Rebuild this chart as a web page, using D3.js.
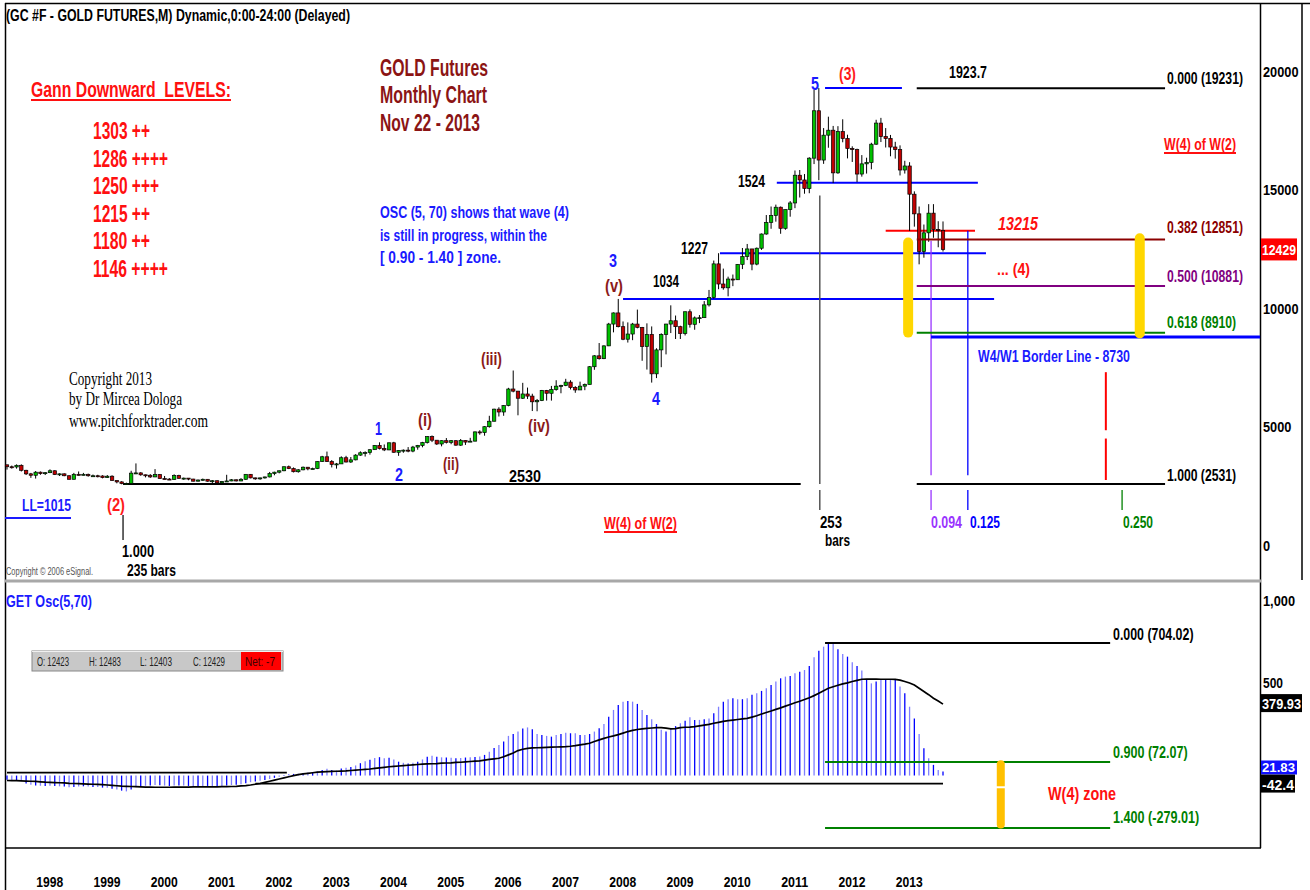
<!DOCTYPE html>
<html>
<head>
<meta charset="utf-8">
<script src="https://cdn.jsdelivr.net/npm/d3@7"></script>
<style>
  body { margin: 0; background: #fff; }
  svg { display: block; }
</style>
</head>
<body>
<svg id="chart"></svg>
<script>
// GC #F monthly bars, Jul 1997 .. Nov 2013 (price in $, eSignal shows it x10)
var firstYear = 1997, firstMonth = 7;
var years = [1998, 1999, 2000, 2001, 2002, 2003, 2004, 2005, 2006, 2007, 2008, 2009, 2010, 2011, 2012, 2013];

var opens = [
  334, 326, 325, 332, 311, 296,
  290, 303, 297, 301, 309, 293, 296, 288, 273, 294, 292, 294,
  288, 288, 287, 280, 286, 268, 262, 255, 255, 299, 300, 292,
  290, 283, 293, 276, 274, 272, 289, 277, 278, 274, 265, 270,
  273, 265, 267, 258, 264, 266, 271, 266, 273, 294, 279, 275,
  279, 283, 297, 303, 309, 326, 318, 305, 313, 324, 317, 318,
  348, 368, 348, 336, 338, 364, 346, 355, 375, 385, 386, 398,
  416, 403, 397, 427, 387, 395, 396, 392, 409, 416, 428, 453,
  438, 422, 436, 429, 436, 417, 437, 430, 434, 473, 470, 495,
  518, 569, 557, 584, 654, 645, 615, 633, 624, 600, 605, 648,
  636, 652, 666, 669, 683, 660, 650, 666, 673, 748, 794, 782,
  836, 928, 975, 917, 864, 886, 928, 914, 833, 884, 718, 819,
  884, 928, 942, 917, 888, 980, 927, 954, 955, 1009, 1040, 1182,
  1097, 1081, 1118, 1115, 1180, 1213, 1245, 1181, 1248, 1308, 1357, 1386,
  1421, 1332, 1411, 1439, 1556, 1536, 1500, 1628, 1828, 1620, 1725, 1746,
  1566, 1740, 1711, 1669, 1664, 1561, 1604, 1610, 1687, 1776, 1719, 1711,
  1675, 1664, 1578, 1595, 1476, 1393, 1234, 1313, 1396, 1327, 1323
];
var highs = [
  335, 331, 336, 336, 313, 300,
  308, 306, 303, 315, 311, 298, 298, 290, 300, 306, 300, 297,
  293, 292, 290, 291, 290, 268, 265, 259, 309, 340, 303, 293,
  295, 316, 295, 287, 278, 294, 292, 280, 278, 275, 272, 276,
  273, 270, 268, 266, 292, 274, 272, 278, 294, 295, 280, 280,
  284, 304, 305, 310, 327, 331, 323, 316, 327, 325, 322, 349,
  372, 390, 354, 342, 370, 372, 367, 379, 391, 391, 399, 417,
  429, 420, 428, 431, 396, 399, 409, 414, 418, 431, 455, 458,
  438, 437, 447, 438, 437, 443, 438, 448, 475, 480, 497, 541,
  571, 577, 586, 659, 732, 646, 680, 660, 634, 612, 650, 650,
  667, 691, 672, 697, 691, 666, 685, 677, 751, 797, 848, 838,
  933, 977, 1034, 939, 935, 933, 989, 916, 931, 918, 826, 889,
  929, 1007, 964, 921, 981, 990, 960, 966, 1025, 1072, 1196, 1227,
  1162, 1128, 1137, 1181, 1249, 1266, 1245, 1251, 1310, 1388, 1424, 1432,
  1424, 1411, 1447, 1576, 1578, 1561, 1632, 1917, 1923.7, 1755, 1803, 1764,
  1763, 1792, 1727, 1678, 1668, 1641, 1630, 1693, 1790, 1798, 1755, 1726,
  1697, 1682, 1617, 1611, 1488, 1424, 1348, 1434, 1434, 1362, 1361
];
var lows = [
  314, 318, 318, 306, 291, 279,
  276, 292, 291, 299, 291, 287, 286, 272, 273, 289, 290, 284,
  284, 281, 277, 279, 267, 256, 252, 252, 254, 295, 288, 281,
  279, 282, 276, 273, 270, 271, 276, 271, 269, 264, 264, 267,
  263, 255, 256, 255, 263, 265, 264, 265, 271, 277, 271, 271,
  276, 281, 290, 298, 307, 316, 302, 301, 311, 311, 315, 316,
  346, 346, 323, 318, 338, 344, 342, 353, 372, 369, 377, 397,
  399, 392, 396, 385, 372, 385, 387, 387, 398, 408, 424, 430,
  418, 412, 424, 421, 415, 414, 418, 430, 433, 461, 457, 491,
  517, 538, 541, 581, 640, 543, 612, 612, 561, 560, 603, 605,
  605, 647, 636, 666, 652, 638, 650, 649, 673, 735, 778, 780,
  835, 893, 914, 860, 850, 860, 910, 773, 736, 681, 700, 746,
  800, 890, 865, 865, 880, 913, 904, 932, 955, 1002, 1035, 1075,
  1073, 1045, 1088, 1114, 1160, 1198, 1155, 1176, 1241, 1305, 1330, 1360,
  1309, 1326, 1381, 1417, 1462, 1478, 1480, 1603, 1535, 1604, 1672, 1523,
  1562, 1695, 1627, 1612, 1527, 1550, 1563, 1581, 1684, 1696, 1673, 1636,
  1626, 1555, 1563, 1321, 1339, 1180, 1208, 1275, 1292, 1252, 1234
];
var closes = [
  326, 325, 332, 311, 296, 290,
  303, 297, 301, 309, 293, 296, 288, 273, 294, 292, 294, 288,
  288, 287, 280, 286, 268, 262, 255, 255, 299, 300, 292, 290,
  283, 293, 276, 274, 272, 289, 277, 278, 274, 265, 270, 273,
  265, 267, 258, 264, 266, 271, 266, 273, 294, 279, 275, 279,
  283, 297, 303, 309, 326, 318, 305, 313, 324, 317, 318, 348,
  368, 348, 336, 338, 364, 346, 355, 375, 385, 386, 398, 416,
  403, 397, 427, 387, 395, 396, 392, 409, 416, 428, 453, 438,
  422, 436, 429, 436, 417, 437, 430, 434, 473, 470, 495, 518,
  569, 557, 584, 654, 645, 615, 633, 624, 600, 605, 648, 636,
  652, 666, 669, 683, 660, 650, 666, 673, 748, 794, 782, 836,
  928, 975, 917, 864, 886, 928, 914, 833, 884, 718, 819, 884,
  928, 942, 917, 888, 980, 927, 954, 955, 1009, 1040, 1182, 1097,
  1081, 1118, 1115, 1180, 1213, 1245, 1181, 1248, 1308, 1357, 1386, 1421,
  1332, 1411, 1439, 1556, 1536, 1500, 1628, 1828, 1620, 1725, 1746, 1566,
  1740, 1711, 1669, 1664, 1561, 1604, 1610, 1687, 1776, 1719, 1711, 1675,
  1664, 1578, 1595, 1476, 1393, 1234, 1313, 1396, 1327, 1323, 1242.9
];

var oscValues = [
  -22, -25, -27, -30, -42, -48,
  -52, -54, -55, -54, -55, -57, -58, -62, -60, -58, -57, -58,
  -60, -61, -64, -65, -70, -74, -80, -84, -74, -62, -56, -54,
  -53, -50, -51, -53, -55, -53, -52, -53, -55, -57, -56, -55,
  -55, -56, -57, -56, -52, -50, -49, -46, -40, -35, -32, -28,
  -24, -18, -12, -6, 3, 8, 9, 10, 14, 16, 17, 22,
  30, 36, 30, 27, 38, 42, 46, 54, 66, 76, 84, 94,
  98, 92, 95, 86, 74, 68, 64, 68, 74, 86, 100, 106,
  100, 97, 96, 95, 92, 94, 96, 97, 99, 101, 110, 127,
  146, 163, 181, 211, 221, 234, 250, 256, 246, 221, 216, 211,
  207, 216, 221, 228, 225, 225, 216, 216, 221, 234, 251, 274,
  313, 349, 375, 393, 397, 393, 381, 349, 322, 300, 274, 243,
  234, 251, 263, 278, 292, 310, 296, 296, 300, 304, 331, 366,
  393, 406, 411, 406, 406, 411, 429, 438, 450, 464, 482, 500,
  517, 526, 529, 544, 552, 561, 583, 629, 664, 685, 704, 700,
  671, 646, 632, 602, 583, 558, 508, 490, 500, 508, 508, 512,
  508, 473, 438, 366, 304, 221, 145, 92, 57, 30, 21.83
];
var oscAverage = [
  -26, -27, -27, -28, -29, -30,
  -31, -33, -35, -36, -37, -38, -39, -41, -42, -43, -44, -45,
  -46, -47, -48, -50, -52, -54, -56, -57, -58, -59, -60, -61,
  -61, -62, -62, -62, -62, -61, -61, -61, -61, -60, -60, -60,
  -60, -60, -60, -59, -59, -58, -57, -55, -53, -50, -46, -42,
  -36, -30, -24, -18, -12, -6, 0, 5, 9, 12, 15, 18,
  20, 21, 22, 23, 24, 25, 27, 29, 31, 33, 35, 38,
  41, 44, 47, 49, 51, 53, 55, 57, 59, 61, 62, 63,
  64, 66, 67, 68, 70, 71, 73, 75, 77, 78, 82, 86,
  89, 92, 100, 110, 120, 133, 140, 145, 147, 148, 149, 150,
  151, 152, 153, 154, 156, 159, 163, 167, 172, 181, 190, 198,
  205, 211, 218, 226, 234, 240, 245, 248, 251, 253, 255, 255,
  252, 248, 250, 255, 257, 258, 260, 264, 268, 272, 278, 283,
  288, 292, 295, 298, 301, 304, 311, 318, 327, 335, 343, 352,
  360, 369, 378, 387, 395, 404, 414, 425, 438, 451, 464, 472,
  480, 487, 493, 500, 506, 512, 513, 513, 513, 512, 512, 512,
  511, 507, 500, 492, 481, 464, 447, 430, 411, 396, 379.93
];

var priceTicks = [0, 500, 1000, 1500, 2000];
var gannLevels = ["1303 ++", "1286 ++++", "1250 +++", "1215 ++", "1180 ++", "1146 ++++"];
var gannWidths = [57, 75, 66, 57, 57, 75];

// fib retracement of wave (3) on price, in $
var priceFibs = [
  { v: 1923.1, label: "0.000 (19231)", color: "#000000", ty: 84 },
  { v: 1285.1, label: "0.382 (12851)", color: "#8b0000", ty: 233 },
  { v: 1088.1, label: "0.500 (10881)", color: "#800080", ty: 282 },
  { v: 891.0, label: "0.618 (8910)", color: "#008000", ty: 328 },
  { v: 253.1, label: "1.000 (2531)", color: "#000000", ty: 481 }
];
var oscFibs = [
  { v: 704.02, label: "0.000 (704.02)", color: "#000000", ty: 640 },
  { v: 72.07, label: "0.900 (72.07)", color: "#008000", ty: 758 },
  { v: -279.01, label: "1.400 (-279.01)", color: "#008000", ty: 823 }
];
var lastClose = 1242.9, lastAvg = 379.93, lastOsc = 21.83, baseLine = -42.4;

var W = 1310, H = 890;
var svg = d3.select("#chart").attr("width", W).attr("height", H);

var bars = opens.map(function(o, i) {
  return { i: i, o: o, h: highs[i], l: lows[i], c: closes[i] };
});

// month index -> pixel; extrapolates to the right for the projections
var x = d3.scaleLinear().domain([0, 196]).range([7, 943]);
var yP = d3.scaleLinear().domain([0, 2000]).range([544, 70]);
var yO = d3.scaleLinear().domain([0, 500]).range([775.6, 681.5]);
function mIndex(year, month) { return (year - firstYear) * 12 + (month - firstMonth); }

var SANS = "'Liberation Sans', Arial, sans-serif";
var SERIF = "'Liberation Serif', 'Times New Roman', serif";

function label(g, px, py, s, o) {
  o = o || {};
  var t = g.append("text")
      .attr("x", px).attr("y", py)
      .attr("font-family", o.serif ? SERIF : SANS)
      .attr("font-size", o.size || 15)
      .attr("font-weight", o.weight || "bold")
      .attr("fill", o.color || "#000")
      .attr("text-anchor", o.anchor || "start")
      .attr("xml:space", "preserve")
      .text(s);
  if (o.italic) t.attr("font-style", "italic");
  if (o.w) t.attr("textLength", o.w).attr("lengthAdjust", "spacingAndGlyphs");
  if (o.underline) {
    g.append("line").attr("x1", px).attr("x2", px + o.w)
        .attr("y1", py + 3).attr("y2", py + 3)
        .attr("stroke", o.color || "#000").attr("stroke-width", 2);
  }
  return t;
}

function hline(g, m0, m1, yv, color, w) {
  g.append("line").attr("x1", x(m0)).attr("x2", x(m1))
      .attr("y1", yv).attr("y2", yv)
      .attr("stroke", color).attr("stroke-width", w || 2);
}
function vline(g, m, y0, y1, color, w) {
  g.append("line").attr("x1", x(m)).attr("x2", x(m))
      .attr("y1", y0).attr("y2", y1)
      .attr("stroke", color).attr("stroke-width", w || 1.5);
}

// ---------- frame ----------
var frame = svg.append("g");
frame.append("line").attr("x1", 5).attr("x2", W).attr("y1", 3.5).attr("y2", 3.5).attr("stroke", "#000").attr("stroke-width", 1.5);
frame.append("line").attr("x1", 5.5).attr("x2", 5.5).attr("y1", 3).attr("y2", H).attr("stroke", "#000").attr("stroke-width", 1.5);
frame.append("line").attr("x1", 1260.5).attr("x2", 1260.5).attr("y1", 3).attr("y2", 848).attr("stroke", "#000").attr("stroke-width", 1.5);
frame.append("line").attr("x1", 1302).attr("x2", 1302).attr("y1", 3).attr("y2", 580).attr("stroke", "#000").attr("stroke-width", 1.5);
frame.append("line").attr("x1", 5).attr("x2", 1261).attr("y1", 581).attr("y2", 581).attr("stroke", "#a8a8a8").attr("stroke-width", 3);
frame.append("line").attr("x1", 5).attr("x2", 1261).attr("y1", 848).attr("y2", 848).attr("stroke", "#000").attr("stroke-width", 1.5);

// ---------- price pane ----------
var pane = svg.append("g");

label(pane, 6, 21, "(GC #F - GOLD FUTURES,M) Dynamic,0:00-24:00 (Delayed)", { size: 16, w: 344 });

// guide lines under the candles
hline(pane, 24.3, 166.2, yP(253.1), "#000", 2);
hline(pane, 129, 206.7, yP(1034), "#0000ff", 2);
hline(pane, 149.3, 205, yP(1227), "#0000ff", 2);
hline(pane, 161.2, 203.3, yP(1524), "#0000ff", 2);
hline(pane, 171.3, 187.4, yP(1923.7), "#0000ff", 2);
hline(pane, 184, 202.7, yP(1321.5), "#ff0000", 2);

// bar counters
vline(pane, 24.3, 515, 540, "#333", 1.5);
vline(pane, 170.2, yP(1470), yP(253.1), "#555", 1.5);
vline(pane, 170.2, yP(228), yP(143), "#555", 1.5);
vline(pane, 193.5, yP(1280), yP(290), "#9933ff", 1.3);
vline(pane, 193.5, yP(228), yP(143), "#9933ff", 1.3);
vline(pane, 201.2, yP(1321.5), yP(290), "#0000ff", 1.3);
vline(pane, 201.2, yP(228), yP(143), "#0000ff", 1.3);
vline(pane, 230.1, yP(725), yP(480), "#ff0000", 2);
vline(pane, 230.1, yP(445), yP(270), "#ff0000", 2);
vline(pane, 233.5, yP(228), yP(143), "#008000", 1.3);

// candles
var candle = pane.append("g").selectAll("g").data(bars).join("g");
candle.append("line")
    .attr("x1", function(d) { return x(d.i); })
    .attr("x2", function(d) { return x(d.i); })
    .attr("y1", function(d) { return yP(d.h); })
    .attr("y2", function(d) { return yP(d.l); })
    .attr("stroke", "#000").attr("stroke-width", 1);
candle.append("rect")
    .attr("x", function(d) { return x(d.i) - 1.7; })
    .attr("width", 3.4)
    .attr("y", function(d) { return yP(Math.max(d.o, d.c)); })
    .attr("height", function(d) { return Math.max(1, Math.abs(yP(d.o) - yP(d.c))); })
    .attr("fill", function(d) { return d.c >= d.o ? "#00c000" : "#c00000"; })
    .attr("stroke", "#000").attr("stroke-width", 0.7);

// fib levels of the (4) retracement
priceFibs.forEach(function(f) {
  hline(pane, 190.5, 242.5, yP(f.v), f.color, 2);
  label(pane, 1167, f.ty, f.label, { size: 16, color: f.color, w: f.label.length > 12 ? 76 : 69 });
});
hline(pane, 193.5, 262.4, yP(873), "#0000ff", 3);

// yellow target bars
[[188.7, 1272, 892], [237.2, 1290, 888]].forEach(function(b) {
  pane.append("line").attr("x1", x(b[0])).attr("x2", x(b[0]))
      .attr("y1", yP(b[1])).attr("y2", yP(b[2]))
      .attr("stroke", "#ffd700").attr("stroke-width", 10).attr("stroke-linecap", "round");
});

// left annotations
label(pane, 31, 97, "Gann Downward\u00a0 LEVELS:", { size: 22, color: "#ff1010", w: 200, underline: true });
gannLevels.forEach(function(s, k) {
  label(pane, 93, 139 + k * 27.6, s, { size: 23, color: "#ff1010", w: gannWidths[k] });
});
label(pane, 380, 76, "GOLD Futures", { size: 24, color: "#8b1414", w: 108 });
label(pane, 380, 103, "Monthly Chart", { size: 24, color: "#8b1414", w: 107 });
label(pane, 380, 131, "Nov 22 - 2013", { size: 24, color: "#8b1414", w: 100 });
label(pane, 380, 218, "OSC (5, 70) shows that wave (4)", { size: 17, color: "#1a1aff", w: 189 });
label(pane, 380, 241, "is still in progress, within the", { size: 17, color: "#1a1aff", w: 167 });
label(pane, 380, 263, "[ 0.90 - 1.40 ] zone.", { size: 17, color: "#1a1aff", w: 121 });
label(pane, 69, 385, "Copyright 2013", { serif: true, size: 19, weight: "normal", color: "#000", w: 83 });
label(pane, 69, 405, "by Dr Mircea Dologa", { serif: true, size: 19, weight: "normal", color: "#000", w: 113 });
label(pane, 69, 427, "www.pitchforktrader.com", { serif: true, size: 19, weight: "normal", color: "#000", w: 139 });
label(pane, 6, 575, "Copyright \u00a9 2006 eSignal.", { size: 10, weight: "normal", color: "#555", w: 87 });
label(pane, 22, 511, "LL=1015", { size: 17, color: "#1a1aff", w: 49 });
pane.append("line").attr("x1", 5).attr("x2", 71).attr("y1", 518).attr("y2", 518).attr("stroke", "#1a1aff").attr("stroke-width", 2);
label(pane, 107, 511, "(2)", { size: 19, color: "#ff1a1a", w: 18 });
label(pane, 122, 557, "1.000", { size: 16, w: 32 });
label(pane, 127, 576, "235 bars", { size: 16, w: 49 });

// wave count
var blue = "#1a1aff", brown = "#8b1a1a";
label(pane, 375, 435, "1", { size: 19, color: blue, w: 7 });
label(pane, 395, 481, "2", { size: 19, color: blue, w: 8 });
label(pane, 418, 426, "(i)", { size: 19, color: brown, w: 14 });
label(pane, 443, 470, "(ii)", { size: 19, color: brown, w: 16 });
label(pane, 481, 365, "(iii)", { size: 19, color: brown, w: 21 });
label(pane, 528, 432, "(iv)", { size: 19, color: brown, w: 22 });
label(pane, 605, 292, "(v)", { size: 19, color: brown, w: 18 });
label(pane, 609, 267, "3", { size: 19, color: blue, w: 8 });
label(pane, 652, 405, "4", { size: 19, color: blue, w: 8 });
label(pane, 811, 90, "5", { size: 19, color: blue, w: 8 });
label(pane, 839, 80, "(3)", { size: 19, color: "#ff1a1a", w: 17 });

label(pane, 509, 482, "2530", { size: 17, w: 32 });
label(pane, 653, 287, "1034", { size: 17, w: 26 });
label(pane, 681, 254, "1227", { size: 17, w: 27 });
label(pane, 738, 187, "1524", { size: 17, w: 27 });
label(pane, 949, 78, "1923.7", { size: 17, w: 38 });
label(pane, 1164, 150, "W(4) of W(2)", { size: 16, color: "#ff1010", w: 72, underline: true });
label(pane, 998, 230, "13215", { size: 19, color: "#ff1010", italic: true, w: 40 });
label(pane, 997, 275, "... (4)", { size: 17, color: "#ff1010", w: 33 });
label(pane, 978, 362, "W4/W1 Border Line - 8730", { size: 16, color: "#1a1aff", w: 152 });
label(pane, 820, 528, "253", { size: 16, w: 22 });
label(pane, 825, 546, "bars", { size: 16, w: 25 });
label(pane, 931, 528, "0.094", { size: 16, color: "#9933ff", w: 31 });
label(pane, 970, 528, "0.125", { size: 16, color: "#0000ff", w: 30 });
label(pane, 1123, 528, "0.250", { size: 16, color: "#008000", w: 30 });
label(pane, 604, 529, "W(4) of W(2)", { size: 16, color: "#ff1010", w: 73, underline: true });

// price axis
priceTicks.forEach(function(v) {
  var s = String(v * 10);
  label(pane, 1263, yP(v) + 6.5, s, { size: 15, w: s.length * 7.1 });
});
pane.append("rect").attr("x", 1261).attr("y", yP(lastClose) - 11).attr("width", 36).attr("height", 22).attr("fill", "#ff0000");
label(pane, 1262, yP(lastClose) + 6, "12429", { size: 15, color: "#fff", w: 34 });

// ---------- oscillator pane ----------
var osc = svg.append("g");
label(osc, 6, 607, "GET Osc(5,70)", { size: 16, color: "#1a1aff", w: 86 });

// status box
osc.append("rect").attr("x", 32).attr("y", 651).attr("width", 251).attr("height", 20)
    .attr("fill", "#c8c8c8").attr("stroke", "#888").attr("stroke-width", 1);
osc.append("line").attr("x1", 32).attr("x2", 283).attr("y1", 651.5).attr("y2", 651.5).attr("stroke", "#f0f0f0");
osc.append("rect").attr("x", 241).attr("y", 652).attr("width", 40).attr("height", 18).attr("fill", "#ff0000");
[["O: 12423", 37], ["H: 12483", 89], ["L: 12403", 140], ["C: 12429", 193]].forEach(function(p) {
  label(osc, p[1], 666, p[0], { size: 12, weight: "normal", color: "#222", w: 32 });
});
label(osc, 245, 666, "Net: -7", { size: 12, weight: "normal", color: "#400000", w: 30 });

// horizontal reference lines
hline(osc, 0, 58.6, yO(16), "#000", 1.6);
hline(osc, 52, 196, yO(baseLine), "#000", 1.6);

// histogram
osc.append("g").selectAll("line").data(oscValues).join("line")
    .attr("x1", function(d, i) { return x(i); })
    .attr("x2", function(d, i) { return x(i); })
    .attr("y1", yO(0))
    .attr("y2", function(d) { return yO(d); })
    .attr("stroke", function(d, i) { return i % 2 ? "#7f7fff" : "#0000ff"; })
    .attr("stroke-width", 1.3);

osc.append("path").datum(oscAverage)
    .attr("fill", "none").attr("stroke", "#000").attr("stroke-width", 1.7)
    .attr("d", d3.line().x(function(d, i) { return x(i); }).y(function(d) { return yO(d); }));

oscFibs.forEach(function(f) {
  hline(osc, 171.3, 231, yO(f.v), f.color, 2);
  label(osc, 1113, f.ty, f.label, { size: 16, color: f.color, w: f.label.length * 5.75 });
});
osc.append("line").attr("x1", x(208.1)).attr("x2", x(208.1))
    .attr("y1", yO(60)).attr("y2", yO(-260))
    .attr("stroke", "#ffc000").attr("stroke-width", 8).attr("stroke-linecap", "round");
osc.append("line").attr("x1", x(208.1) - 5).attr("x2", x(208.1) + 5)
    .attr("y1", yO(-62)).attr("y2", yO(-62)).attr("stroke", "#fff").attr("stroke-width", 2);
label(osc, 1048, 800, "W(4) zone", { size: 18, color: "#ff1010", w: 68 });

// oscillator axis
label(osc, 1263, 606, "1,000", { size: 15, w: 32 });
label(osc, 1263, yO(500) + 6.5, "500", { size: 15, w: 20 });
osc.append("rect").attr("x", 1261).attr("y", yO(lastAvg) - 10).attr("width", 41).attr("height", 18).attr("fill", "#000");
label(osc, 1262, yO(lastAvg) + 5, "379.93", { size: 15, color: "#fff", w: 39 });
osc.append("rect").attr("x", 1261).attr("y", yO(lastOsc) - 11).attr("width", 36).attr("height", 14).attr("fill", "#1010ff");
label(osc, 1262, yO(lastOsc) + 1, "21.83", { size: 13, color: "#fff", w: 33 });
osc.append("rect").attr("x", 1261).attr("y", yO(baseLine) - 9).attr("width", 34).attr("height", 18).attr("fill", "#000");
label(osc, 1262, yO(baseLine) + 6, "-42.4", { size: 15, color: "#fff", w: 32 });

// ---------- date axis ----------
var xAxis = d3.axisBottom(x)
    .tickValues(years.map(function(y) { return mIndex(y, 1); }))
    .tickFormat(function(d, k) { return years[k]; })
    .tickSize(0);
var ax = svg.append("g").attr("transform", "translate(0,870)").call(xAxis);
ax.select(".domain").remove();
ax.selectAll("text")
    .attr("font-family", SANS).attr("font-size", 14).attr("font-weight", "bold")
    .attr("fill", "#000").attr("text-anchor", "start").attr("dy", 0).attr("y", 17)
    .attr("textLength", 27).attr("lengthAdjust", "spacingAndGlyphs");
</script>
</body>
</html>
